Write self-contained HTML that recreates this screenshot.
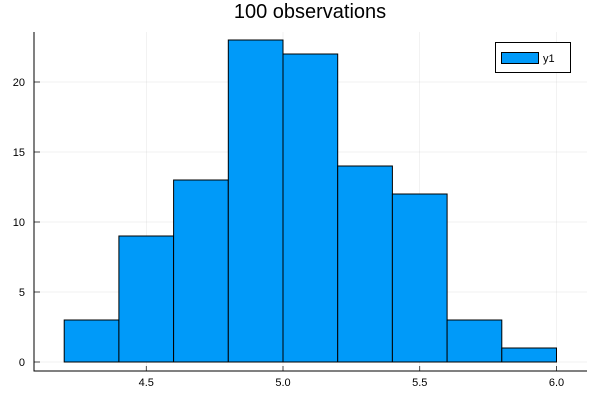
<!DOCTYPE html>
<html><head><meta charset="utf-8"><style>
body{margin:0;background:#fff;font-family:"Liberation Sans",sans-serif}
</style></head><body>
<svg id="c" width="600" height="400" xmlns="http://www.w3.org/2000/svg">
<text x="310" y="18" font-size="20" text-anchor="middle" fill="#000">100 observations</text>
<g id="grid"></g><g id="bars"></g><g id="axes"></g>
<g>
<rect x="495.5" y="42.5" width="75" height="30" fill="#fff" stroke="#000" stroke-width="1"/>
<rect x="501.5" y="52.5" width="37" height="11" fill="#009af9" stroke="#000"/>
<text x="543" y="62" font-size="11">y1</text>
</g>
</svg>
<script>
const binEdges=[4.2,4.4,4.6,4.8,5.0,5.2,5.4,5.6,5.8,6.0];
const counts=[3,9,13,23,22,14,12,3,1];
const xTicks=[4.5,5.0,5.5,6.0];
const xTickLabels=["4.5","5.0","5.5","6.0"];
const yTicks=[0,5,10,15,20];
const ns="http://www.w3.org/2000/svg";
const X=v=>283+(v-5)*273.5;
const Y=v=>362-v*14;
function mk(p,t,a){const e=document.createElementNS(ns,t);for(const k in a)e.setAttribute(k,a[k]);document.getElementById(p).appendChild(e);return e;}
xTicks.forEach((t,i)=>{
 const g=mk('grid','line',{x1:X(t),x2:X(t),y1:32,y2:371,stroke:'#000','stroke-opacity':0.1,'stroke-width':0.5});
 
 
 mk('axes','line',{x1:X(t),x2:X(t),y1:371,y2:366,stroke:'#000','stroke-width':0.7});
 const l=mk('axes','text',{x:X(t),y:386,'font-size':11,'text-anchor':'middle'});l.textContent=xTickLabels[i];
 
 
});
yTicks.forEach(t=>{
 const g=mk('grid','line',{x1:34,x2:587,y1:Y(t),y2:Y(t),stroke:'#000','stroke-opacity':0.1,'stroke-width':0.5});
 
 
 mk('axes','line',{x1:34,x2:40,y1:Y(t),y2:Y(t),stroke:'#000','stroke-width':0.7});
 const l=mk('axes','text',{x:25,y:Y(t)+4,'font-size':11,'text-anchor':'end'});l.textContent=t;
 
 
});
counts.forEach((c,i)=>{
 const r=mk('bars','rect',{x:X(binEdges[i]),y:Y(c),width:X(binEdges[i+1])-X(binEdges[i]),height:Y(0)-Y(c),fill:'#009af9',stroke:'#000','stroke-width':1});
 
 
});
const ax=mk('axes','path',{d:'M34,32 V371 H587',fill:'none',stroke:'#000','stroke-width':1});


</script>
</body></html>
